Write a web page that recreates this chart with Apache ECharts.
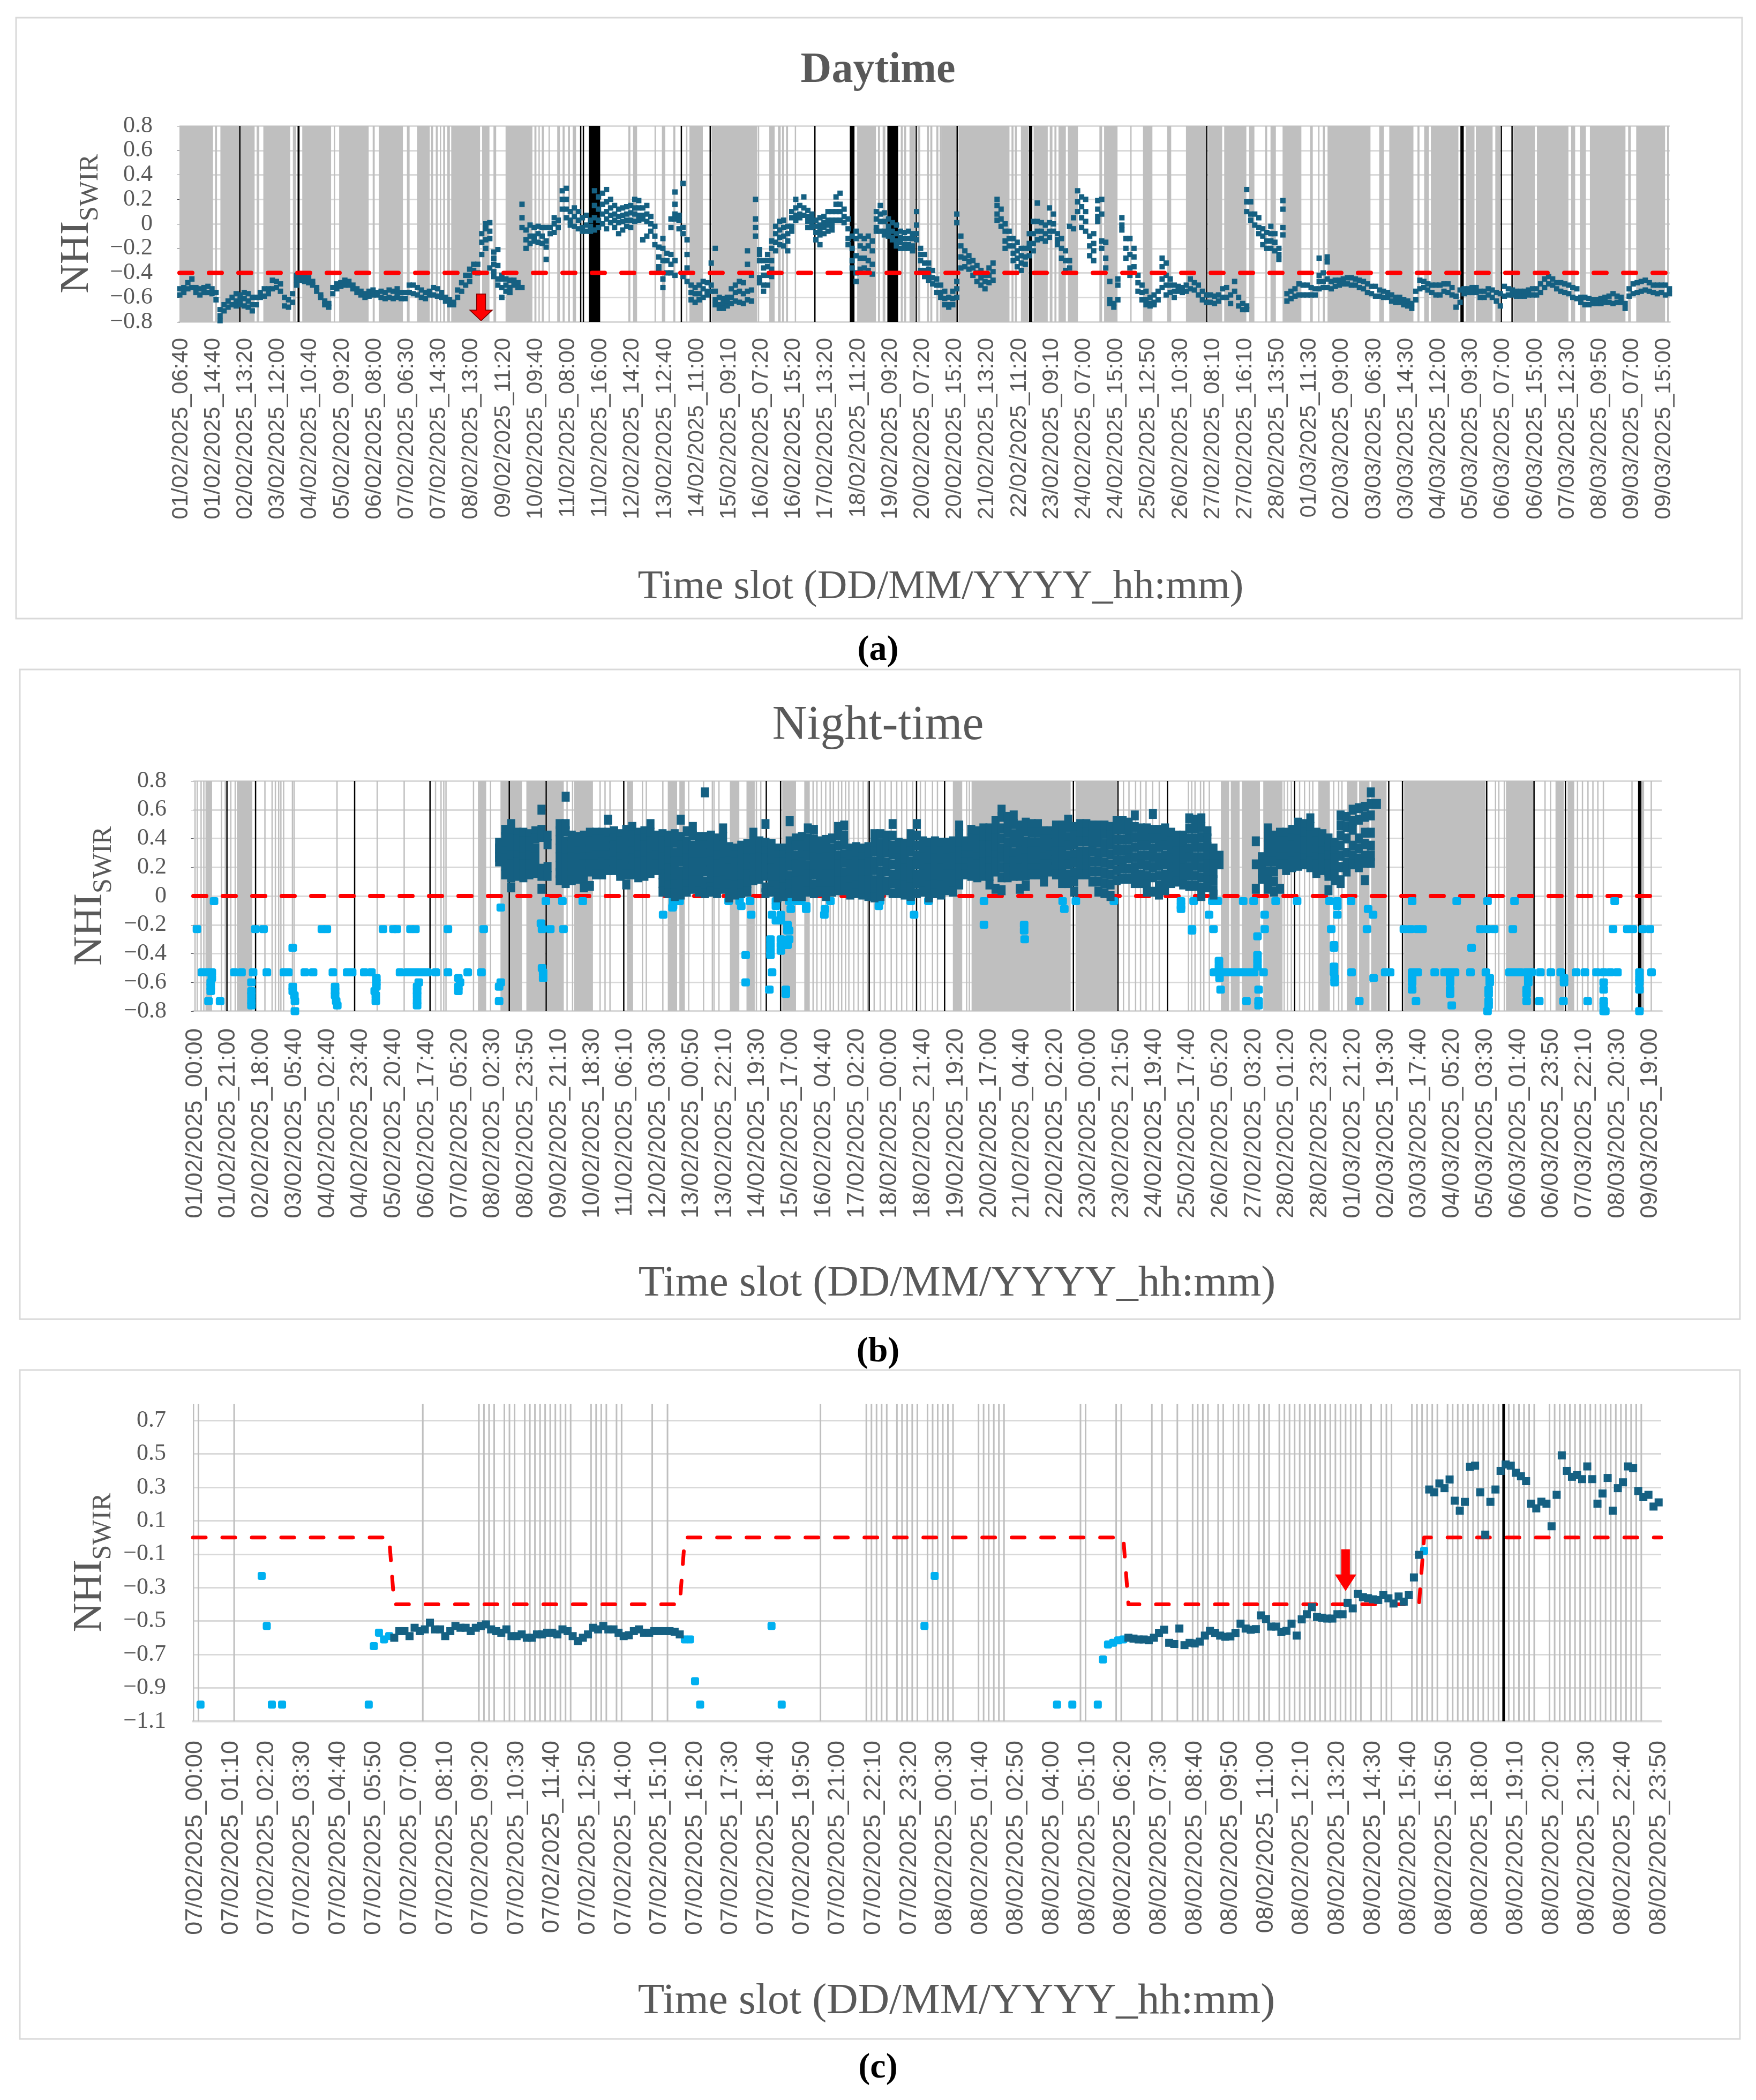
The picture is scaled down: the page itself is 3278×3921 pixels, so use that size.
<!DOCTYPE html>
<html><head><meta charset="utf-8">
<style>html,body{margin:0;padding:0;background:#fff}#c{width:3278px;height:3921px}</style>
<script src="https://cdn.jsdelivr.net/npm/echarts@6/dist/echarts.min.js"></script>
</head><body><div id="c"></div>
<script>
const aTickLabels=["01/02/2025_06:40","01/02/2025_14:40","02/02/2025_13:20","03/02/2025_12:00","04/02/2025_10:40","05/02/2025_09:20","06/02/2025_08:00","07/02/2025_06:30","07/02/2025_14:30","08/02/2025_13:00","09/02/2025_11:20","10/02/2025_09:40","11/02/2025_08:00","11/02/2025_16:00","12/02/2025_14:20","13/02/2025_12:40","14/02/2025_11:00","15/02/2025_09:10","16/02/2025_07:20","16/02/2025_15:20","17/02/2025_13:20","18/02/2025_11:20","19/02/2025_09:20","20/02/2025_07:20","20/02/2025_15:20","21/02/2025_13:20","22/02/2025_11:20","23/02/2025_09:10","24/02/2025_07:00","24/02/2025_15:00","25/02/2025_12:50","26/02/2025_10:30","27/02/2025_08:10","27/02/2025_16:10","28/02/2025_13:50","01/03/2025_11:30","02/03/2025_09:00","03/03/2025_06:30","03/03/2025_14:30","04/03/2025_12:00","05/03/2025_09:30","06/03/2025_07:00","06/03/2025_15:00","07/03/2025_12:30","08/03/2025_09:50","09/03/2025_07:00","09/03/2025_15:00"];
const bTickLabels=["01/02/2025_00:00","01/02/2025_21:00","02/02/2025_18:00","03/02/2025_05:40","04/02/2025_02:40","04/02/2025_23:40","05/02/2025_20:40","06/02/2025_17:40","07/02/2025_05:20","08/02/2025_02:30","08/02/2025_23:50","09/02/2025_21:10","10/02/2025_18:30","11/02/2025_06:10","12/02/2025_03:30","13/02/2025_00:50","13/02/2025_22:10","14/02/2025_19:30","15/02/2025_17:00","16/02/2025_04:40","17/02/2025_02:20","18/02/2025_00:00","18/02/2025_21:40","19/02/2025_19:20","20/02/2025_17:00","21/02/2025_04:40","22/02/2025_02:20","23/02/2025_00:00","23/02/2025_21:50","24/02/2025_19:40","25/02/2025_17:40","26/02/2025_05:20","27/02/2025_03:20","28/02/2025_01:20","28/02/2025_23:20","01/03/2025_21:20","02/03/2025_19:30","03/03/2025_17:40","04/03/2025_05:20","05/03/2025_03:30","06/03/2025_01:40","06/03/2025_23:50","07/03/2025_22:10","08/03/2025_20:30","09/03/2025_19:00"];
const cTickTimes=["00:00","01:10","02:20","03:30","04:40","05:50","07:00","08:10","09:20","10:30","11:40","12:50","14:00","15:10","16:20","17:30","18:40","19:50","21:00","22:10","23:20","00:30","01:40","02:50","04:00","05:10","06:20","07:30","08:40","09:50","11:00","12:10","13:20","14:30","15:40","16:50","18:00","19:10","20:20","21:30","22:40","23:50"];
const cYTicks=[-1.1,-.9,-.7,-.5,-.3,-.1,.1,.3,.5,.7];

// Daytime: no-data periods as [first slot, last slot]
const aGrayBands=[[0,50],[53,56],[61,112],[115,119],[125,165],[169,174],[183,226],[230,232],[238,282],[288,291],[297,333],[339,343],[354,373],[375,378],[382,385],[388,390],[393,396],[399,403],[405,448],[451,462],[468,472],[486,526],[529,532],[535,537],[540,543],[550,552],[563,567],[571,574],[579,582],[586,591],[669,672],[676,682],[708,710],[719,724],[736,739],[755,757],[760,780],[793,861],[862,864],[879,887],[892,896],[898,901],[904,907],[917,919],[1010,1038],[1041,1044],[1048,1052],[1075,1078],[1080,1083],[1088,1096],[1100,1104],[1114,1117],[1119,1122],[1128,1131],[1133,1136],[1136,1158],[1161,1237],[1240,1243],[1245,1248],[1254,1265],[1273,1294],[1297,1301],[1304,1307],[1310,1321],[1324,1339],[1371,1375],[1378,1398],[1417,1419],[1436,1450],[1472,1478],[1500,1531],[1533,1554],[1557,1590],[1594,1602],[1618,1621],[1626,1634],[1644,1672],[1685,1689],[1697,1699],[1704,1707],[1711,1775],[1788,1795],[1803,1839],[1845,1848],[1855,1862],[1865,1906],[1917,1930],[1932,1957],[1961,1968],[1988,2020],[2023,2070],[2074,2080],[2087,2096],[2102,2155],[2159,2163],[2171,2214],[2217,2220]];
const aBlackBands=[[90,91],[176,179],[598,599],[601,603],[610,627],[748,749],[791,792],[946,948],[999,1006],[1055,1071],[1098,1099],[1159,1160],[1266,1271],[1531,1532],[1909,1914],[1970,1971],[1986,1987]];
const aSlotStep=6;
// Daytime NHI readings (x100), one list per six slots
const aDarkColumns=[[-53,-58],[-52,-56],[-48,-53],[-45,-52],[-52,-56],[-53,-58],[-52,-56],[-51,-56],[-53,-57],[-56,-62],[-70,-75,-79],[-66,-71],[-63,-68],[-60,-66],[-57,-63,-67],[-58,-62,-66],[-56,-61,-67],[-57,-63,-68],[-60,-66,-71],[-60,-66],[-56,-60],[-53,-59],[-53,-57],[-46,-53],[-47,-52],[-49,-55],[-60,-67],[-62,-68],[-57,-64],[-42,-46,-50],[-42,-46],[-43,-47],[-44,-48],[-47,-50],[-52,-55],[-58,-60],[-63,-66],[-65,-68],[-52,-57],[-49,-53],[-48,-51],[-46,-50],[-47,-50],[-50,-53],[-53,-56],[-55,-58],[-57,-60],[-55,-59],[-54,-58],[-56,-58],[-55,-60],[-56,-61],[-54,-60],[-55,-61],[-53,-57,-60],[-56,-61],[-56,-61],[-50,-56],[-50,-57],[-52,-58],[-54,-60],[-56,-61],[-55,-58],[-52,-58],[-53,-59],[-56,-60],[-60,-63],[-62,-66],[-64,-66],[-54,-60],[-48,-55],[-42,-50],[-37,-42,-47],[-33,-38],[-33,-40],[-25,-15,-8],[0,-4,-13,-20],[1,-6,-12,-36],[-23,-28,-33,-39,-43],[-21,-34,-45,-50],[-42,-45,-52,-60],[-45,-50,-55],[-46,-52,-56],[-46,-50],[-48,-52],[-52,16,5,-3],[-5,-13,-20],[-1,-10,-16],[-3,-10,-14],[-2,-8,-15],[-3,-10,-16],[-3,-14,-19,-29],[-3,-8],[5,0,-7],[3,-3],[27,20,12],[29,20,12,5],[10,3,-1],[13,6,-2],[10,3,-4],[5,-3,-6],[7,-1,-6],[3,-2,-6],[27,15,5,-5],[22,12,3,-3],[25,16,8,0],[28,18,10,4,-4],[20,13,7,1],[15,8,3,-3],[12,6,1,-8],[13,7,2,-5],[14,8,3,-2],[15,9,3,-3],[20,13,8,2],[19,13,7,3],[13,7,4,-13],[15,8,2,-10],[6,0,-6],[-2,-10,-17],[-19,-27,-35,-39],[-12,-20,-30,-45,-52],[-24,-30,-40],[4,-3,-25,-33,-40],[26,16,8,4,-30,-42],[7,3,-4],[33,-3,-8,-43],[-13,-25,-36,-47],[-50,-56,-62],[-52,-57,-64],[-50,-57,-62],[-47,-53,-60],[-48,-55,-58],[-50,-55,-32],[-55,-62,-66,-20],[-60,-66,-69],[-61,-65,-69],[-60,-64,-67],[-53,-60,-65],[-50,-56,-63],[-47,-55,-64],[-48,-57,-65],[-33,-22,-55,-62],[-42,-54,-63],[20,4,-3,-10],[-21,-25,-30,-44,-48],[-30,-36,-42,-50,-55],[-25,-30,-35,-42,-50],[-14,-20,-30,-37,-43],[-2,-8,-15,-22],[2,-5,-11,-17],[3,-3,-10,-18],[-2,-8,-14,-22],[10,5,-2,-6],[20,13,7,3],[15,8,5],[22,13,7],[11,6,2,-3],[8,4,0,-3],[3,-2,-7,-13],[5,-1,-5,-9,-17],[6,1,-3,-8],[10,3,-1,-6],[10,3,-1,-5],[22,16,10,3],[25,16,10,3],[12,6,1],[4,-4,-12,-17],[-10,-20,-30,-36],[-6,-12,-26,-40,-47],[-10,-18,-28,-37],[-12,-20,-28,-36],[-10,-18,-30,-38],[-14,-22,-33,-41],[10,4,-3,-6],[15,8,2,-6],[9,2,-6,-9],[4,-2,-6,-10],[1,-6,-11,-13],[-1,-8,-14,-18],[-6,-11,-15,-20],[-7,-12,-17,-20],[-6,-12,-17,-20],[-8,-12,-18,-22],[10,-1,-8,-13],[-20,-25,-30,-38],[-25,-32,-38,-43],[-32,-37,-42,-46],[-38,-44,-49],[-45,-50,-56],[-50,-56,-60],[-55,-61,-66],[-60,-66,-68],[-55,-61,-66],[-47,-53,-60,8,1],[-10,-18,-27,-36],[-22,-28,-35],[-26,-31,-37],[-30,-36,-42],[-34,-40,-47],[-38,-44,-50],[-42,-47,-53],[-36,-42,-48],[-32,-39,-46],[20,15,8,3],[12,4,-2],[0,-6,-14,-20],[-6,-12,-18],[-12,-18,-24,-30],[-15,-22,-28,-35],[-20,-26,-32,-38],[-20,-27,-33],[-8,-16,-20,-26],[2,-8,-16,-22],[17,2,-6,-13],[1,-6,-12],[-1,-8,-14],[13,1,-6,-11],[8,0,-6],[-8,-13,-17],[-12,-20,-28],[-22,-30,-38],[-2,-30,-36],[5,-4],[27,18,10],[22,14,5,-3],[20,10,2,-6],[-10,-18,-26],[-8,-16,-22,-30],[19,12,6,2],[20,8,-14,-20],[-15,-28,-36],[-47,-62,-65],[-65,-68],[-45,-50,-62],[5,-1,-5],[-12,-20,-28],[-12,-25,-36,-42],[-20,-27,-35],[-42,-48,-55],[-50,-56,-62],[-55,-62,-66],[-60,-65,-67],[-58,-64,-66],[-55,-62],[-28,-35,-45,-52],[-32,-42,-50,-58],[-45,-50,-56],[-50,-55,-60],[-51,-55],[-52,-56],[-50,-55],[-45,-53],[-48,-54],[-50,-58],[-55,-62],[-58,-64],[-58,-64],[-59,-65],[-58,-63],[-53,-60],[-52,-60],[-58,-65],[-47,-55],[-60,-67],[-65,-70],[28,18,10,-67,-70],[18,8,3],[8,-1],[5,-3,-8],[-4,-10,-17],[-7,-14,-20],[-8,-14,-20,-2],[-8,-15,-22],[-20,-25,-29],[19,12,-3,-9],[-57,-63],[-55,-61],[-53,-59],[-49,-58],[-50,-58],[-50,-58],[-52,-58],[-53,-58],[-28,-42,-47,-53],[-40,-47,-52],[-27,-31,-45,-52],[-47,-53],[-46,-51],[-46,-50],[-45,-49],[-44,-49],[-44,-50],[-45,-50],[-46,-52],[-47,-53],[-49,-56],[-51,-57],[-51,-59],[-54,-59],[-55,-60],[-56,-60],[-58,-63],[-60,-64],[-60,-64],[-62,-66],[-63,-67],[-65,-69],[-55,-62],[-46,-53],[-47,-52],[-49,-54],[-50,-56],[-50,-58],[-50,-58],[-49,-55],[-49,-56],[-52,-58],[-59,-68],[-54,-64],[-53,-57],[-53,-56],[-52,-56],[-52,-56],[-55,-60],[-55,-60],[-53,-58],[-54,-60],[-56,-63],[-57,-67],[-51,-59],[-53,-58],[-54,-58],[-55,-59],[-55,-59],[-55,-59],[-54,-58],[-53,-58],[-53,-58],[-49,-56],[-45,-52],[-43,-49],[-45,-50],[-48,-53],[-48,-55],[-49,-56],[-50,-57],[-52,-60],[-53,-61],[-60,-64],[-60,-66],[-61,-66],[-62,-65],[-62,-65],[-61,-65],[-60,-64],[-59,-64],[-57,-65],[-59,-64],[-60,-64],[-65,-69],[-53,-59],[-49,-57],[-48,-56],[-47,-55],[-46,-54],[-48,-55],[-50,-56],[-50,-57],[-50,-56],[-50,-58],[-53,-57]];
const aThreshold=[[-.5,-.4],[2220.5,-.4]];
const aArrow=[[449,-.682]];

// Night-time no-data periods and lines
const bGrayBands=[[22,34],[79,107],[517,532],[558,597],[605,639],[642,673],[692,726],[788,799],[862,879],[883,893],[976,992],[1005,1020],[1070,1095],[1110,1120],[1380,1397],[1414,1594],[1603,1678],[1867,1882],[1885,1901],[1905,1938],[1944,1979],[2044,2065],[2096,2115],[2118,2137],[2140,2168],[2200,2348],[2385,2435],[2475,2490],[2497,2509],[2630,2636]];
const bGrayLines=[3,7,14,19,51,58,68,76,130,143,149,155,159,164,180,183,261,334,383,440,450,455,459,509,540,679,689,739,748,757,816,823,853,900,927,943,946,955,976,1023,1031,1126,1133,1141,1149,1157,1163,1172,1178,1185,1191,1200,1208,1217,1225,1237,1248,1257,1268,1278,1287,1296,1307,1321,1330,1343,1352,1405,1410,1690,1700,1712,1721,1731,1743,1755,1808,1814,1820,1830,1836,1846,1982,1988,1995,2010,2019,2028,2034,2072,2081,2087,2366,2372,2382,2456,2466,2515,2524,2534,2543,2552,2562,2614,2649];
const bBlackBands=[[61,62],[113,114],[293,294],[430,431],[574,575],[641,642],[782,783],[1041,1042],[1067,1068],[1228,1229],[1314,1315],[1365,1366],[1599,1600],[1680,1681],[1770,1771],[2001,2002],[2172,2173],[2197,2198],[2350,2351],[2436,2437],[2493,2494],[2625,2631]];
const bDarkFirstSlot=555, bSlotStep=11;
// Night-time NHI readings above the threshold (x100), one list per eleven slots
const bDarkColumns=[[37,33,30,27,24],[46,41,36,31,26,21,15],[50,45,40,34,28,22,16,13,6],[44,39,34,28,23,18,14],[44,38,33,27,22,17,13],[43,38,33,28,22,18,15],[45,40,33,27,21,16],[60,46,41,19,14,5],[42,36,20,14],[],[50,45,39,33,27,21,16,11],[69,50,45,38,32,26,20,14,9],[42,37,32,27,21,16,11],[41,36,31,26,21,17,12],[42,37,32,27,22,17,11,6],[44,38,32,27,22,17,7],[44,39,33,28,22,17,15],[44,39,34,28,23,18,15],[53,44,38,33,28,22,18],[45,40,35,30,24,18],[43,38,33,27,22,17,14],[46,41,36,30,25,20,15,8],[48,42,37,31,26,21,15],[44,39,33,28,23,18,13],[45,40,35,29,24,18,14],[50,44,38,33,27,21,16],[42,37,33,28,22,18],[43,38,32,27,21,15,9,3],[42,37,31,25,19,13,7,2],[43,37,30,24,18,12,8,2,0],[53,41,35,30,24,17,11,5,1],[45,38,32,26,20,14,8,3],[48,42,35,29,23,17,11,5],[41,35,29,23,17,11,5,3],[72,41,35,29,23,17,10,4,2],[42,36,30,24,18,12,6,3],[40,34,28,22,16,10,5,2],[47,41,35,29,23,17,11,5],[34,29,24,19,14,8,2,-1],[33,28,23,18,13,7,1],[35,30,25,20,14,8,2],[36,31,26,21,15,9,3],[44,38,32,26,20,14,11],[38,32,27,21,16,12],[50,37,31,26,20,14,6,2],[36,30,25,19,13,7,3],[33,28,23,18,12,7,2,-1],[33,28,23,17,12,6,0],[52,38,33,27,21,14,8,2],[40,35,28,22,16,10,4,0],[41,35,29,23,17,11,5,0],[47,40,34,28,21,15,9,3],[46,39,33,27,21,15,8,2],[38,32,26,20,14,8,3],[39,33,27,21,15,9,3,0],[40,33,27,21,15,9,3],[48,42,35,28,22,16,10,4],[49,42,36,29,23,16,10,4],[33,28,22,17,11,6,1],[34,29,24,18,13,7,2],[33,27,22,16,11,5,1],[34,29,23,17,11,5,0],[43,37,31,24,18,11,5,-1],[43,36,30,24,17,11,5,0],[42,36,30,23,17,10,4],[50,42,35,29,22,15,9,2],[37,31,26,20,14,8,2],[36,30,25,19,13,7,1],[43,37,31,24,18,12,6,0],[50,42,35,28,22,15,9,2],[38,32,27,21,15,9,3],[37,31,25,19,13,7,1,-1],[38,32,26,20,14,8,2],[37,31,25,19,13,7,1],[37,32,26,21,15,9,4],[38,33,27,21,15,9,3],[49,43,37,31,25,19,14,8],[38,33,28,23,19,15],[46,40,34,28,23,18,14],[45,39,33,27,22,17,13],[47,41,35,29,23,18,14],[47,41,35,29,24,19,14,8],[52,46,40,34,28,23,17,5],[60,55,47,40,33,27,20,13,4],[55,50,44,37,31,25,19,13],[56,50,43,37,30,24,18,14],[49,43,37,31,25,19,14,5],[51,45,38,32,26,20,14,7],[50,44,37,31,25,19,15],[50,44,37,31,25,19,15],[45,39,33,27,22,16,10],[45,39,33,28,22,17],[49,43,37,31,25,20,15],[49,43,37,31,25,20,15,9],[53,48,41,35,28,22,15,9],[48,42,36,29,23,16,10,3],[50,44,38,31,25,20,15],[50,44,38,31,25,20,15],[49,43,37,31,24,17,10],[49,43,37,30,24,17,10,3],[49,43,36,30,23,16,9,2],[48,42,36,29,22,15,8,0],[52,46,39,32,25,18,11],[52,46,39,32,25,19,12],[51,45,39,32,26,19,12],[56,48,41,34,27,20,14,9],[47,41,35,28,22,15,9],[47,41,35,28,21,14,8,3],[57,46,40,33,27,20,13,3],[46,40,34,27,21,14,7,1],[47,41,35,28,22,15,9,4],[44,38,32,26,20,14,9],[42,36,31,25,20,14,10],[42,37,31,25,19,13,8],[54,47,40,33,27,20,14,7],[53,47,40,34,27,21,14,7],[54,48,41,34,27,20,13,6,0],[45,40,34,28,22,16,11,6],[33,27,22,16,11,4,1],[28,22],[],[],[],[],[],[38,22,5],[27,22,16,12],[47,41,36,30,24,17,11,5],[42,36,30,24,17,10,3],[44,38,32,27,22,5],[44,38,32,27,22,18],[46,40,35,29,24,20],[51,45,39,33,27,21],[50,44,38,32,26,22],[54,48,42,36,30,24,20],[44,38,33,27,22,18,16],[43,37,31,26,21,18],[40,34,28,22,17,14,4],[37,31,26,20,15,11],[56,49,42,35,28,20,11,9],[55,48,40,30,23,17],[60,52,46,35,28,22],[61,53,40,33,26,20],[62,55,44,36,28,23,11],[72,64,56,44,35,28,23],[64]];
// Night-time readings below the threshold: a level and the slots at that level
const bLightLevels=[-.035,-.08,-.13,-.19,-.23,-.36,-.5,-.53,-.57,-.6,-.63,-.66,-.69,-.73,-.76,-.8,-.07,-.09,-.17,-.2,-.24,-.3,-.34,-.38,-.41,-.45,-.49,-.28,-.65,-.68];
const bLightSlots=[[37,640,670,707,872,883,871,972,992,1011,1058,1082,1095,1104,1157,1247,1303,1335,1436,1579,1603,1672,1794,1817,1851,1861,1907,1926,1966,2005,2064,2078,2103,2214,2295,2351,2400,2582],[558,870],[853,1013,1051,1067,1146,1309,1845,1946,2078,2143],[631],[6,112,127,233,242,344,363,369,394,403,462,527,633,648,672,1814,1853,1946,2067,2132,2199,2211,2224,2233,2338,2351,2363,2397,2579,2605,2615,2633,2646],[180,2322,2072],[633],[15,25,33,74,87,108,133,164,172,202,217,253,279,288,310,323,375,388,397,406,416,425,440,462,498,523,635,1051,1854,1864,1873,1882,1892,1901,1910,1920,1927,1944,2072,2104,2165,2174,2214,2224,2255,2273,2283,2292,2320,2348,2391,2400,2410,2422,2431,2447,2466,2484,2512,2528,2549,2562,2574,2587,2627,2649],[33,332,481,635,1864,2073,2144,2214,2283,2355,2425,2490,2627],[31,105,332,409,484,558,1003,2073,2214,2283,2355,2425,2490,2562,2627],[31,180,257,332,406,481,555],[31,105,180,257,329,406,481],[105,183,257,331,406],[27,48,105,184,259,331,406,555,1913,1935,2118,2221,2353,2422,2445,2489,2533,2562],[105,261,406,1935,2286,2353,2562],[184,2351,2562,2565,2627],[871,995,1113,1058,1245,1794,2078],[1113,1085,1147,1582,1794,2134],[1058,1067],[1436,1509,1079],[1509,1814,1079,1082],[1048,1067,1082,1510],[1048,1067,1079,2072],[1048,1067],[1003,1048,1933],[1863,1933],[1863,2072,1933],[1933],[1046,1076,1866,1935,2214,2283,2353,2422,2562,2627],[1076,2283,2353,2422]];
const bThreshold=[[-.5,0],[2667.5,0]];

// 7-8 February: grey and black time-slot lines
const cGrayLines=[0,1,8,45,56,57,58,59,61,62,63,65,66,67,68,69,70,71,72,73,74,78,79,80,81,83,84,90,93,123,132,133,134,135,136,138,139,140,141,142,144,145,146,147,148,149,154,155,156,157,158,159,174,175,181,182,188,190,193,196,197,198,199,201,202,204,205,206,207,209,210,211,213,214,215,216,217,218,219,220,221,222,223,224,225,226,227,228,229,231,233,234,235,239,240,241,242,243,244,246,247,248,249,250,251,252,253,254,255,256,258,259,260,261,262,263,266,267,268,269,270,271,272,273,274,275,276,277,278,279,280,281,282,283,284];
const cBlackLines=[257];
const cThreshold=[[-.5,0],[38,0],[39,-.4],[95,-.4],[96,0],[182,0],[183,-.4],[240,-.4],[241,0],[287.5,0]];
const cLightPoints=[[1,-1],[13,-.23],[14,-.53],[15,-1],[17,-1],[34,-1],[35,-.65],[36,-.57],[37,-.61],[38,-.59],[96,-.61],[97,-.61],[98,-.86],[99,-1],[113,-.53],[115,-1],[143,-.53],[145,-.23],[169,-1],[172,-1],[177,-1],[178,-.73],[179,-.64],[180,-.63],[181,-.615],[182,-.61],[241,-.08]];
const cDarkFirstDay=[-.6,-.56,-.56,-.59,-.54,-.56,-.55,-.51,-.55,-.55,-.59,-.56,-.53,-.54,-.54,-.56,-.54,-.53,-.52,-.55,-.56,-.57,-.55,-.59,-.59,-.58,-.6,-.6,-.58,-.58,-.57,-.57,-.58,-.55,-.56,-.59,-.62,-.6,-.58,-.54,-.55,-.53,-.55,-.55,-.57,-.59,-.585,-.56,-.55,-.57,-.57,-.56,-.56,-.56,-.56,-.565,-.58];
const cDarkSecondDay=[-.6,-.605,-.61,-.61,-.615,-.6,-.573,-.552,-.63,-.637,-.545,-.644,-.63,-.634,-.623,-.587,-.559,-.573,-.587,-.594,-.592,-.573,-.516,-.545,-.552,-.548,-.466,-.488,-.533,-.533,-.566,-.559,-.516,-.587,-.49,-.459,-.417,-.476,-.48,-.485,-.485,-.459,-.459,-.391,-.424,-.338,-.357,-.363,-.37,-.374,-.345,-.364,-.395,-.353,-.384,-.345,-.239,-.104];
const cDarkEvening=[.287,.27,.323,.295,.347,.22,.16,.213,.423,.43,.27,.017,.213,.287,.398,.437,.43,.387,.366,.337,.202,.174,.214,.202,.067,.255,.491,.398,.363,.373,.349,.425,.349,.202,.263,.356,.16,.295,.33,.425,.415,.278,.241,.255,.185,.21];
const cArrow=[[225.6,-.196]];

const SERIF='"Liberation Serif","DejaVu Serif",serif', SANS='"Liberation Sans",Arial,sans-serif';
const TXT='#595959', GRID='#d9d9d9', GRAY='#bfbfbf', DARK='#156082', LIGHT='#00b0f0', RED='#ff0000';
const ARROW='path://M30,0 L70,0 L70,60 L100,60 L50,100 L0,60 L30,60 Z';

function tickFmt(v){ if(Math.abs(v)<1e-9) return '0'; return (v<0?'\u2212':'')+Math.abs(v).toFixed(1); }

function bandSeries(idx,data,fill,minW,shift,yMin,yMax){
  return {type:'custom',xAxisIndex:idx,yAxisIndex:idx,silent:true,z:1,clip:true,encode:{x:[0,1]},data:data,
    renderItem(p,api){
      const x0=api.coord([api.value(0)+shift,yMin])[0], x1=api.coord([api.value(1)+shift,yMin])[0];
      const top=api.coord([0,yMax])[1], bot=api.coord([0,yMin])[1], w=Math.max(x1-x0,minW);
      return {type:'rect',shape:{x:x0-(x1-x0<minW?minW/2:0),y:top,width:w,height:bot-top},style:{fill:fill}};
    }};
}
function pts(idx,data,size,color,symbol,z){
  return {type:'scatter',xAxisIndex:idx,yAxisIndex:idx,silent:true,z:z||3,symbol:symbol||'rect',symbolSize:size,itemStyle:{color:color,opacity:1},data:data,large:false};
}
function dash(idx,data,width,z){
  return {type:'line',xAxisIndex:idx,yAxisIndex:idx,silent:true,z:z,showSymbol:false,data:data,
    lineStyle:{color:RED,width:width,type:[24,31],cap:'round',join:'round'}};
}
function arrow(idx,data,size,border){
  return {type:'scatter',xAxisIndex:idx,yAxisIndex:idx,silent:true,z:5,symbol:ARROW,symbolSize:size,symbolKeepAspect:false,
    itemStyle:{color:RED,opacity:1,borderColor:border||RED,borderWidth:border?1.5:0},data:data};
}
function columns(cols,first,step){
  const out=[]; cols.forEach((c,i)=>c.forEach(v=>out.push([first+i*step,v/100]))); return out;
}
function xAxis(idx,count,step,offset,labels,font,margin,gap,nameSize,nameShift){
  const custom=labels.map((_,i)=>offset+i*step);
  return {type:'value',gridIndex:idx,min:-.5,max:count-.5,
    axisLine:{show:true,onZero:false,lineStyle:{color:GRID,width:4}},axisTick:{show:false},splitLine:{show:false},
    axisLabel:{rotate:90,margin:margin,fontFamily:SANS,fontSize:font,color:TXT,customValues:custom,hideOverlap:false,
      formatter:v=>labels[Math.round((v-offset)/step)]},
    name:'Time slot (DD/MM/YYYY_hh:mm)',nameLocation:'middle',nameGap:gap,
    nameTextStyle:{fontFamily:SERIF,fontSize:nameSize,color:TXT,padding:[0,0,0,2*nameShift]}};
}
function yAxis(idx,min,max,opts,gap){
  return Object.assign({type:'value',gridIndex:idx,min:min,max:max,
    axisLine:{show:false},
    splitLine:{show:true,lineStyle:{color:GRID,width:3}},
    name:'{n|NHI}{s|SWIR}',nameLocation:'middle',nameRotate:90,nameGap:gap,
    nameTextStyle:{rich:{n:{fontFamily:SERIF,fontSize:76,color:TXT,verticalAlign:'top',lineHeight:88},
                         s:{fontFamily:SERIF,fontSize:50,color:TXT,verticalAlign:'bottom',lineHeight:50}}}},opts);
}
const yLabel={margin:50,fontFamily:SERIF,fontSize:44,color:TXT,formatter:tickFmt,showMinLabel:true,showMaxLabel:true};

const cLabels=cTickTimes.map((t,i)=>(i<21?'07':'08')+'/02/2025_'+t);
const bLightPoints=[]; bLightLevels.forEach((l,i)=>bLightSlots[i].forEach(s=>bLightPoints.push([s,l])));
const cDark=[...cDarkFirstDay.map((v,i)=>[39+i,v]),...cDarkSecondDay.map((v,i)=>[183+i,v]),...cDarkEvening.map((v,i)=>[242+i,v])];
const frame=(x,y,w,h)=>({type:'rect',silent:true,z:0,shape:{x,y,width:w,height:h},style:{fill:'#fff',stroke:GRID,lineWidth:3}});
const cap=l=>({text:'{p|(}{b|'+l+'}{p|)}',left:'center',textStyle:{rich:{p:{fontFamily:SERIF,fontSize:66,color:'#000'},b:{fontFamily:SERIF,fontSize:66,fontWeight:'bold',color:'#000'}}}});

const option={
  animation:false,backgroundColor:'#fff',
  graphic:[frame(30,33,3222,1122),frame(37,1250,3211,1213),frame(37,2558,3211,1249)],
  title:[
    {text:'Daytime',left:'center',top:87,textStyle:{fontFamily:SERIF,fontSize:80,fontWeight:'bold',color:TXT}},
    {text:'Night-time',left:'center',top:1306,textStyle:{fontFamily:SERIF,fontSize:90,fontWeight:'normal',color:TXT}},
    Object.assign(cap('a'),{top:1177}),Object.assign(cap('b'),{top:2487}),Object.assign(cap('c'),{top:3824})
  ],
  grid:[
    {left:335,top:235,width:2782,height:366},
    {left:361,top:1458,width:2741,height:430},
    {left:360,top:2621,width:2741,height:593}
  ],
  xAxis:[
    xAxis(0,2221,48.05,2,aTickLabels,42,30,457,77,30),
    xAxis(1,2668,60.1,3,bTickLabels,44,32,469,81,55),
    xAxis(2,288,7,0,cLabels,45,36,483,81,55)
  ],
  yAxis:[
    yAxis(0,-.8,.8,{interval:.2,axisLabel:yLabel},115),
    yAxis(1,-.8,.8,{interval:.2,axisLabel:yLabel},142),
    yAxis(2,-1.1,.8,{axisTick:{show:false,customValues:cYTicks},axisLabel:Object.assign({},yLabel,{customValues:cYTicks})},142)
  ],
  series:[
    bandSeries(0,aGrayBands,GRAY,2.5,-.5,-.8,.8),
    bandSeries(0,aBlackBands,'#000',2.5,-.5,-.8,.8),
    pts(0,columns(aDarkColumns,0,aSlotStep),10,DARK),
    dash(0,aThreshold,8,4),
    arrow(0,aArrow,[42,50],'#7f0000'),
    bandSeries(1,bGrayBands,GRAY,2.5,-.5,-.8,.8),
    bandSeries(1,bGrayLines.map(s=>[s,s]),GRAY,2.5,-.5,-.8,.8),
    bandSeries(1,bBlackBands,'#000',2.5,-.5,-.8,.8),
    dash(1,bThreshold,8,2),
    pts(1,bLightPoints,[16,15],LIGHT,'roundRect',3),
    pts(1,columns(bDarkColumns,bDarkFirstSlot,bSlotStep),[15,18.5],DARK,'rect',4),
    bandSeries(2,cGrayLines.map(s=>[s,s]),GRAY,3,-.4,-1.1,.8),
    bandSeries(2,cBlackLines.map(s=>[s,s]),'#000',5,-.4,-1.1,.8),
    dash(2,cThreshold,7,2),
    pts(2,cLightPoints,[15,15],LIGHT,'roundRect',3),
    pts(2,cDark,15,DARK,'rect',4),
    arrow(2,cArrow,[40,78])
  ]
};
const chart=echarts.init(document.getElementById('c'),null,{renderer:'canvas',width:3278,height:3921});
chart.setOption(option);
</script></body></html>
